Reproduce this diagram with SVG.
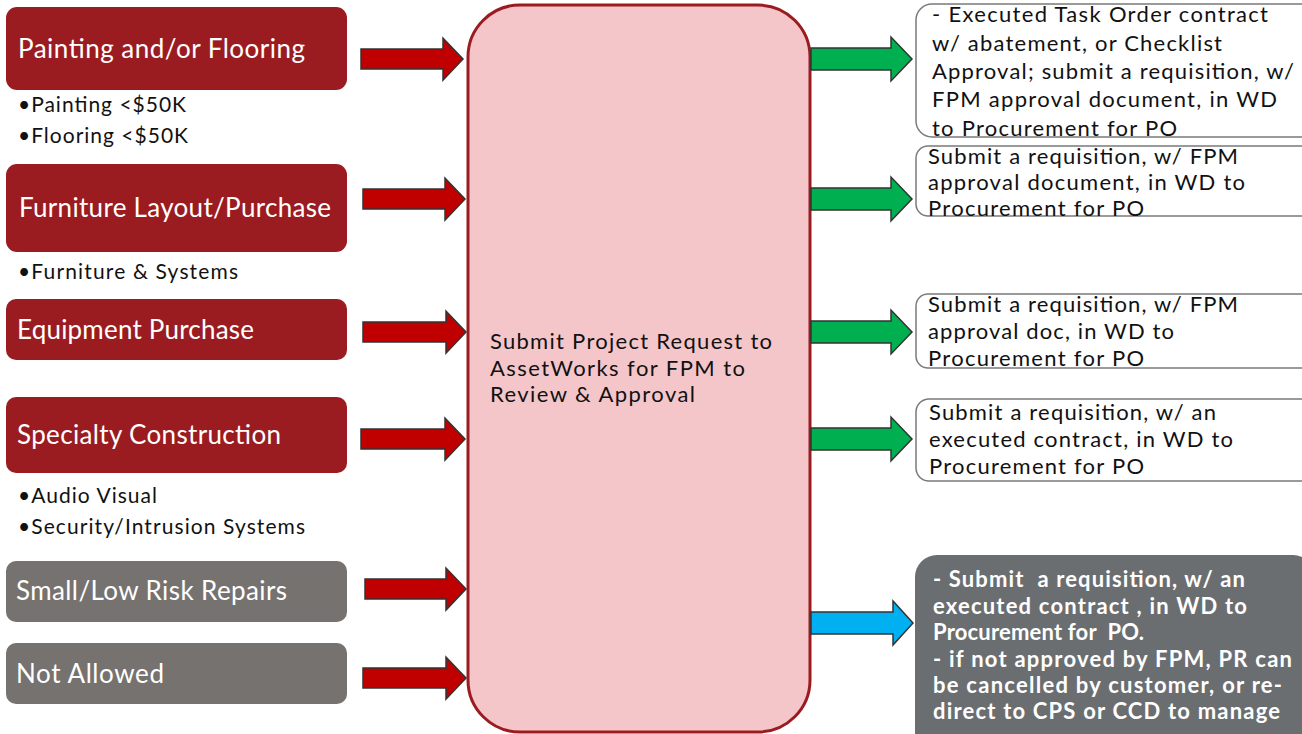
<svg xmlns="http://www.w3.org/2000/svg" width="1302" height="734" viewBox="0 0 1302 734">
<style>
text{white-space:pre}
.lbox{fill:#9b1c20}
.gbox{fill:#767270}
.lt{font-family:Lato,"Liberation Sans",sans-serif;font-size:26px;fill:#fff}
.bul{font-family:Lato,"Liberation Sans",sans-serif;font-size:21px;fill:#111}
.rbox{fill:#fff;stroke:#7a7a7a;stroke-width:1.5}
.rt{font-family:Lato,"Liberation Sans",sans-serif;font-size:22px;fill:#111}
.wt{font-family:Lato,"Liberation Sans",sans-serif;font-size:22px;font-weight:bold;fill:#fff}
.ra{fill:#c00000;stroke:#333;stroke-width:1.5}
.ga{fill:#00b050;stroke:#333;stroke-width:1.5}
.ba{fill:#00b0f0;stroke:#333;stroke-width:1.5}
</style>
<rect width="1302" height="734" fill="#fff"/>

<g id="center">
<rect x="468" y="5" width="342" height="727" rx="52" fill="#f4c6c9" stroke="#9b1c20" stroke-width="3"/>
<text class="rt" x="490" y="349" textLength="282" lengthAdjust="spacing">Submit Project Request to</text>
<text class="rt" x="490" y="376" textLength="255" lengthAdjust="spacing">AssetWorks for FPM to</text>
<text class="rt" x="490" y="402" textLength="205" lengthAdjust="spacing">Review &amp; Approval</text>
</g>

<g id="n1">
<rect class="lbox" x="6" y="7" width="341" height="83" rx="11"/>
<text class="lt" x="18" y="58" textLength="287" lengthAdjust="spacing">Painting and/or Flooring</text>
<text class="bul" x="18" y="112" textLength="168" lengthAdjust="spacing">•Painting &lt;$50K</text>
<text class="bul" x="18" y="143" textLength="170" lengthAdjust="spacing">•Flooring &lt;$50K</text>
</g>
<g id="n2">
<rect class="lbox" x="6" y="164" width="341" height="88" rx="11"/>
<text class="lt" x="19" y="217" textLength="312" lengthAdjust="spacing">Furniture Layout/Purchase</text>
<text class="bul" x="18" y="279" textLength="220" lengthAdjust="spacing">•Furniture &amp; Systems</text>
</g>
<g id="n3">
<rect class="lbox" x="6" y="299" width="341" height="61" rx="10"/>
<text class="lt" x="17" y="339" textLength="237" lengthAdjust="spacing">Equipment Purchase</text>
</g>
<g id="n4">
<rect class="lbox" x="6" y="397" width="341" height="76" rx="10"/>
<text class="lt" x="17" y="444" textLength="264" lengthAdjust="spacing">Specialty Construction</text>
<text class="bul" x="18" y="503" textLength="139" lengthAdjust="spacing">•Audio Visual</text>
<text class="bul" x="18" y="534" textLength="287" lengthAdjust="spacing">•Security/Intrusion Systems</text>
</g>
<g id="n5">
<rect class="gbox" x="6" y="561" width="341" height="61" rx="10"/>
<text class="lt" x="16" y="600" textLength="271" lengthAdjust="spacing">Small/Low Risk Repairs</text>
</g>
<g id="n6">
<rect class="gbox" x="6" y="643" width="341" height="61" rx="10"/>
<text class="lt" x="16" y="683" textLength="148" lengthAdjust="spacing">Not Allowed</text>
</g>

<g id="r1">
<rect class="rbox" x="916" y="4" width="400" height="133" rx="16"/>
<text class="rt" x="932" y="22" textLength="336" lengthAdjust="spacing">- Executed Task Order contract</text>
<text class="rt" x="932" y="51" textLength="290" lengthAdjust="spacing">w/ abatement, or Checklist</text>
<text class="rt" x="932" y="79" textLength="362" lengthAdjust="spacing">Approval; submit a requisition, w/</text>
<text class="rt" x="932" y="107" textLength="345" lengthAdjust="spacing">FPM approval document, in WD</text>
<text class="rt" x="932" y="136" textLength="245" lengthAdjust="spacing">to Procurement for PO</text>
</g>
<g id="r2">
<rect class="rbox" x="916" y="146" width="400" height="70" rx="12"/>
<text class="rt" x="928" y="164" textLength="310" lengthAdjust="spacing">Submit a requisition, w/ FPM</text>
<text class="rt" x="928" y="190" textLength="317" lengthAdjust="spacing">approval document, in WD to</text>
<text class="rt" x="928" y="216" textLength="216" lengthAdjust="spacing">Procurement for PO</text>
</g>
<g id="r3">
<rect class="rbox" x="916" y="294" width="400" height="74" rx="12"/>
<text class="rt" x="928" y="312" textLength="310" lengthAdjust="spacing">Submit a requisition, w/ FPM</text>
<text class="rt" x="928" y="339" textLength="246" lengthAdjust="spacing">approval doc, in WD to</text>
<text class="rt" x="928" y="366" textLength="216" lengthAdjust="spacing">Procurement for PO</text>
</g>
<g id="r4">
<rect class="rbox" x="916" y="399" width="400" height="82" rx="13"/>
<text class="rt" x="929" y="420" textLength="287" lengthAdjust="spacing">Submit a requisition, w/ an</text>
<text class="rt" x="929" y="447" textLength="304" lengthAdjust="spacing">executed contract, in WD to</text>
<text class="rt" x="929" y="474" textLength="215" lengthAdjust="spacing">Procurement for PO</text>
</g>
<g id="r5">
<rect x="915" y="555" width="400" height="200" rx="22" fill="#6b6e71"/>
<text class="wt" x="933" y="587" textLength="312" lengthAdjust="spacing">- Submit  a requisition, w/ an</text>
<text class="wt" x="933" y="614" textLength="314" lengthAdjust="spacing">executed contract , in WD to</text>
<text class="wt" x="933" y="640" textLength="211" lengthAdjust="spacing">Procurement for  PO.</text>
<text class="wt" x="933" y="667" textLength="359" lengthAdjust="spacing">- if not approved by FPM, PR can</text>
<text class="wt" x="933" y="693" textLength="349" lengthAdjust="spacing">be cancelled by customer, or re-</text>
<text class="wt" x="933" y="719" textLength="347" lengthAdjust="spacing">direct to CPS or CCD to manage</text>
</g>

<g id="connectors">
<path class="ra" d="M361,49 H443 V38 L463,59 L443,80 V69 H361 Z"/>
<path class="ra" d="M363,189 H445 V178 L465,199 L445,220 V209 H363 Z"/>
<path class="ra" d="M363,322 H446 V311 L466,332 L446,353 V342 H363 Z"/>
<path class="ra" d="M361,429 H445 V418 L465,439 L445,460 V449 H361 Z"/>
<path class="ra" d="M365,579 H446 V568 L466,589 L446,610 V599 H365 Z"/>
<path class="ra" d="M363,668 H446 V657 L466,678 L446,699 V688 H363 Z"/>
<path class="ga" d="M811,48 H891 V37 L912,59 L891,81 V70 H811 Z"/>
<path class="ga" d="M811,188 H891 V177 L912,199 L891,221 V210 H811 Z"/>
<path class="ga" d="M811,321 H891 V310 L912,332 L891,354 V343 H811 Z"/>
<path class="ga" d="M811,428 H891 V417 L912,439 L891,461 V450 H811 Z"/>
<path class="ba" d="M811,612 H893 V601 L913,623 L893,645 V634 H811 Z"/>
</g>
</svg>
